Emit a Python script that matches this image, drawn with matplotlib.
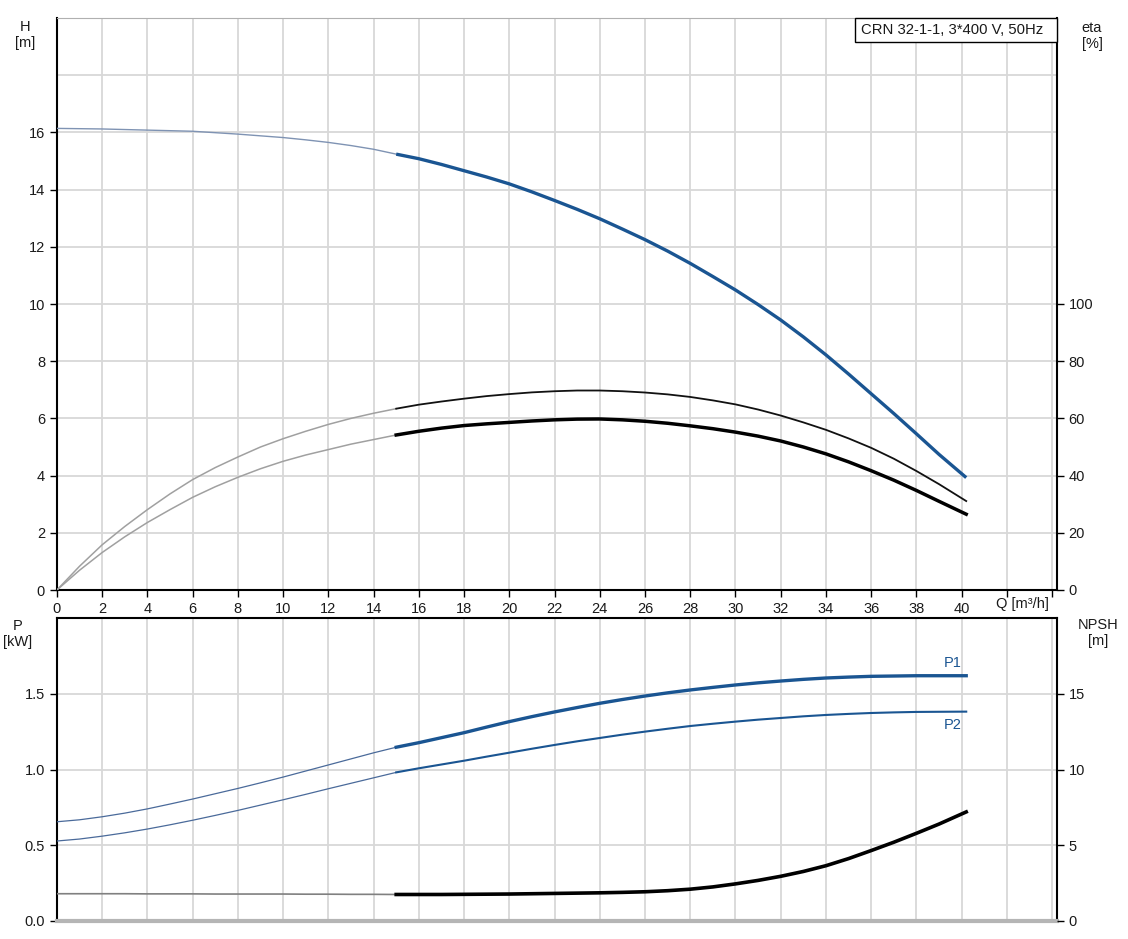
import matplotlib
matplotlib.use("Agg")
import matplotlib.pyplot as plt
from matplotlib.patches import Rectangle

plt.rcParams['font.family'] = ['Liberation Sans', 'DejaVu Sans']

# ---- data (Q in m3/h) ----
q_lo = [0, 1, 2, 3, 4, 5, 6, 7, 8, 9, 10, 11, 12, 13, 14, 15]
q_hi = [15, 16, 17, 18, 19, 20, 21, 22, 23, 24, 25, 26, 27, 28, 29, 30, 31, 32, 33, 34, 35,
        36, 37, 38, 39, 40.2]

# head H [m]
h_lo = [16.14, 16.13, 16.12, 16.10, 16.08, 16.06, 16.04, 15.99, 15.94, 15.88, 15.82, 15.74,
        15.65, 15.54, 15.41, 15.24]
h_hi = [15.24, 15.08, 14.88, 14.66, 14.44, 14.2, 13.92, 13.62, 13.31, 12.98, 12.62, 12.25,
        11.85, 11.42, 10.96, 10.49, 9.98, 9.44, 8.85, 8.22, 7.55, 6.86, 6.17, 5.46, 4.74, 3.93]

# efficiency eta [%] (upper thin curve and lower thick curve)
eta1_lo = [0, 8.3, 15.8, 22.2, 28.1, 33.6, 38.6, 42.8, 46.5, 50.0, 52.9, 55.5, 57.9, 60.0,
           61.8, 63.4]
eta1_hi = [63.4, 64.8, 65.9, 66.9, 67.8, 68.5, 69.1, 69.5, 69.75, 69.75, 69.5, 69.05, 68.4,
           67.5, 66.3, 64.9, 63.1, 61.0, 58.6, 56.0, 53.0, 49.7, 45.9, 41.6, 37.0, 31.1]
eta2_lo = [0, 6.9, 13.1, 18.6, 23.6, 28.1, 32.4, 36.1, 39.4, 42.4, 45.0, 47.2, 49.1, 51.0,
           52.6, 54.2]
eta2_hi = [54.2, 55.5, 56.6, 57.5, 58.1, 58.6, 59.1, 59.5, 59.75, 59.8, 59.5, 59.0, 58.3,
           57.4, 56.4, 55.2, 53.8, 52.1, 50.0, 47.6, 44.8, 41.7, 38.4, 34.8, 31.0, 26.5]

# power P1, P2 [kW]
p1_lo = [0.655, 0.668, 0.688, 0.712, 0.74, 0.772, 0.805, 0.84, 0.875, 0.912, 0.95, 0.99,
         1.03, 1.07, 1.11, 1.147]
p1_hi = [1.147, 1.177, 1.21, 1.243, 1.28, 1.316, 1.349, 1.38, 1.409, 1.437, 1.462, 1.485,
         1.506, 1.525, 1.542, 1.558, 1.572, 1.584, 1.595, 1.604, 1.61, 1.615, 1.617, 1.619,
         1.619, 1.619]
p2_lo = [0.528, 0.541, 0.56, 0.582, 0.607, 0.635, 0.665, 0.697, 0.73, 0.765, 0.80, 0.836,
         0.873, 0.909, 0.945, 0.981]
p2_hi = [0.981, 1.008, 1.033, 1.058, 1.085, 1.111, 1.137, 1.162, 1.186, 1.208, 1.23, 1.25,
         1.269, 1.287, 1.302, 1.316, 1.329, 1.34, 1.351, 1.36, 1.367, 1.373, 1.377, 1.38,
         1.381, 1.382]

# NPSH [m]
npsh_lo = [1.80, 1.80, 1.80, 1.80, 1.79, 1.79, 1.79, 1.78, 1.78, 1.78, 1.78, 1.77, 1.77, 1.76,
           1.76, 1.75]
npsh_hi = [1.75, 1.75, 1.75, 1.76, 1.77, 1.78, 1.80, 1.82, 1.84, 1.86, 1.89, 1.93, 2.0, 2.1,
           2.25, 2.45, 2.68, 2.95, 3.27, 3.65, 4.12, 4.65, 5.2, 5.79, 6.4, 7.2]

title = "CRN 32-1-1, 3*400 V, 50Hz"

blue = "#1a5592"
txt = "#1a1a1a"
grid_c = "#d8d8d8"
fs = 10.5

fig = plt.figure(figsize=(11.28, 9.39), dpi=100)
W, H = 1128, 939
ax1 = fig.add_axes([56.9 / W, (H - 590) / H, (1056.7 - 56.9) / W, 572 / H])
ax3 = fig.add_axes([56.9 / W, (H - 921) / H, (1056.7 - 56.9) / W, 303 / H])

xticks = list(range(0, 46, 2))
for ax in (ax1, ax3):
    ax.set_xlim(0, 44.2)
    ax.set_xticks(xticks)
    for x in xticks[1:]:
        ax.axvline(x, color=grid_c, lw=1.3, zorder=0)
    ax.tick_params(axis='both', direction='out', length=5, width=1, colors='black',
                   labelsize=fs, labelcolor=txt)

# ---- top chart ----
ax1.set_ylim(0, 20)
for y in range(2, 21, 2):
    ax1.axhline(y, color=grid_c, lw=1.3, zorder=0)
ax1.set_yticks(range(0, 17, 2))
ax1.set_xticklabels([str(x) if x <= 40 else "" for x in xticks])
ax1.spines['top'].set_color('#b0b0b0')
ax1.spines['left'].set_linewidth(1.5)
ax1.spines['bottom'].set_linewidth(1.5)
ax1.spines['right'].set_linewidth(1.5)

ax2 = ax1.twinx()
ax2.set_ylim(0, 200)
ax2.set_yticks(range(0, 101, 20))
ax2.tick_params(direction='out', length=5, width=1, labelsize=fs, labelcolor=txt)
for s in ax2.spines.values():
    s.set_visible(False)

ax1.plot(q_lo, h_lo, color="#7f93b3", lw=1.0, zorder=3)
ax1.plot(q_hi, h_hi, color=blue, lw=2.4, zorder=3, solid_capstyle='butt')
ax2.plot(q_lo, eta1_lo, color="#a0a0a0", lw=1.1, zorder=3)
ax2.plot(q_hi, eta1_hi, color="#111111", lw=1.3, zorder=3)
ax2.plot(q_lo, eta2_lo, color="#a0a0a0", lw=1.1, zorder=3)
ax2.plot(q_hi, eta2_hi, color="#000000", lw=2.5, zorder=3)

fig.text(25 / W, 1 - 35 / H, "H\n[m]", ha='center', va='center', fontsize=fs, color=txt, linespacing=1.1)
fig.text(1092 / W, 1 - 36 / H, "eta\n[%]", ha='center', va='center', fontsize=fs, color=txt, linespacing=1.1)
fig.text(1022 / W, 1 - 604 / H, "Q [m³/h]", ha='center', va='center', fontsize=fs, color=txt)
fig.text(18 / W, 1 - 634 / H, "P\n[kW]", ha='center', va='center', fontsize=fs, color=txt, linespacing=1.1)
fig.text(1098 / W, 1 - 633 / H, "NPSH\n[m]", ha='center', va='center', fontsize=fs, color=txt, linespacing=1.1)

# info box in the top right corner
fig.patches.append(Rectangle((855 / W, 1 - 42 / H), (1056.7 - 855) / W, 24 / H,
                             transform=fig.transFigure, fc='white', ec='black', lw=1, zorder=5))
fig.text(861 / W, 1 - 30 / H, title, ha='left', va='center', fontsize=10.7, color=txt, zorder=6)

# ---- bottom chart ----
ax3.set_ylim(0, 2.0)
for y in [0.5, 1.0, 1.5, 2.0]:
    ax3.axhline(y, color=grid_c, lw=1.3, zorder=0)
ax3.set_yticks([0.0, 0.5, 1.0, 1.5])
ax3.set_yticklabels(["0.0", "0.5", "1.0", "1.5"])
ax3.tick_params(axis='x', length=0, labelbottom=False)
ax3.spines['bottom'].set_color('#b5b5b5')
ax3.spines['bottom'].set_linewidth(3)
ax3.spines['left'].set_linewidth(1.5)
ax3.spines['right'].set_linewidth(1.5)
ax3.spines['top'].set_linewidth(1.5)

ax4 = ax3.twinx()
ax4.set_ylim(0, 20)
ax4.set_yticks([0, 5, 10, 15])
ax4.tick_params(direction='out', length=5, width=1, labelsize=fs, labelcolor=txt)
for s in ax4.spines.values():
    s.set_visible(False)

ax3.plot(q_lo, p1_lo, color="#4a6a9a", lw=0.9, zorder=3)
ax3.plot(q_hi, p1_hi, color=blue, lw=2.4, zorder=3)
ax3.plot(q_lo, p2_lo, color="#4a6a9a", lw=0.9, zorder=3)
ax3.plot(q_hi, p2_hi, color=blue, lw=1.5, zorder=3)
ax4.plot(q_lo, npsh_lo, color="#808080", lw=1.2, zorder=3)
ax4.plot(q_hi, npsh_hi, color="#000000", lw=2.6, zorder=3)

ax3.text(39.6, p1_hi[-1] + 0.04, "P1", ha='center', va='bottom', fontsize=fs, color=blue)
ax3.text(39.6, p2_hi[-1] - 0.04, "P2", ha='center', va='top', fontsize=fs, color=blue)

fig.savefig("out.png", dpi=100)
